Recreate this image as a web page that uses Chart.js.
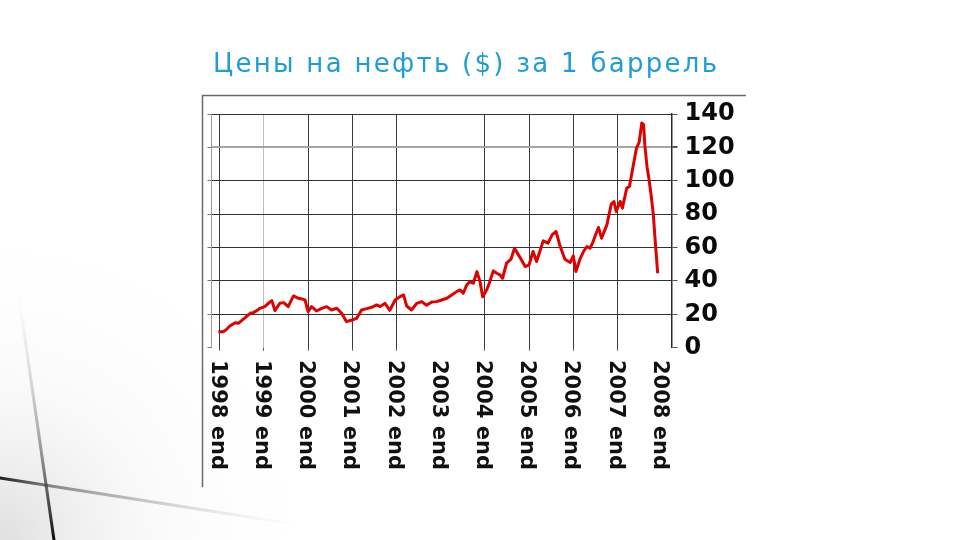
<!DOCTYPE html>
<html>
<head>
<meta charset="utf-8">
<script src="https://cdn.jsdelivr.net/npm/chart.js@4.4.1/dist/chart.umd.min.js"></script>
<style>
  html, body { margin: 0; padding: 0; background: #ffffff; }
  canvas { display: block; }
</style>
</head>
<body>
<canvas id="c" width="960" height="540"></canvas>
<script>
// ---- Data ----
const chartTitle = 'Цены на нефть ($) за 1 баррель';

// decimal year position (1999.0 = "1998 end")
const years = [
  1998.97, 1999.08, 1999.14, 1999.23, 1999.35, 1999.42, 1999.53, 1999.69, 1999.76, 1999.84,
  1999.91, 2000.02, 2000.10, 2000.18, 2000.25, 2000.36, 2000.45, 2000.55, 2000.67, 2000.78,
  2000.89, 2000.93, 2001.00, 2001.08, 2001.19, 2001.31, 2001.42, 2001.53, 2001.65, 2001.76,
  2001.87, 2001.99, 2002.10, 2002.21, 2002.33, 2002.44, 2002.55, 2002.63, 2002.74, 2002.85,
  2002.97, 2003.08, 2003.16, 2003.23, 2003.34, 2003.46, 2003.57, 2003.68, 2003.80, 2003.91,
  2004.02, 2004.14, 2004.25, 2004.36, 2004.44, 2004.51, 2004.59, 2004.66, 2004.74, 2004.82,
  2004.89, 2004.95, 2005.04, 2005.10, 2005.19, 2005.27, 2005.34, 2005.40, 2005.49, 2005.59,
  2005.67, 2005.76, 2005.82, 2005.91, 2006.00, 2006.09, 2006.17, 2006.32, 2006.43, 2006.52,
  2006.61, 2006.70, 2006.81, 2006.93, 2007.00, 2007.06, 2007.15, 2007.24, 2007.31, 2007.38,
  2007.45, 2007.49, 2007.57, 2007.64, 2007.76, 2007.86, 2007.92, 2007.97, 2008.06, 2008.11,
  2008.21, 2008.27, 2008.36, 2008.43, 2008.49, 2008.55, 2008.59, 2008.62, 2008.67, 2008.71,
  2008.76, 2008.81, 2008.85, 2008.91
];
const prices = [
  9.6, 9.6, 10.6, 13.0, 15.0, 14.6, 17.0, 20.6, 21.0, 22.2,
  23.6, 24.6, 26.6, 28.2, 22.2, 26.6, 27.0, 24.6, 31.0, 29.6,
  29.0, 28.6, 21.6, 24.6, 22.0, 23.6, 24.6, 22.6, 23.6, 20.6,
  15.6, 16.6, 17.6, 22.6, 23.4, 24.2, 25.6, 24.6, 26.6, 22.4,
  28.6, 30.6, 31.6, 25.0, 22.6, 26.6, 27.6, 25.4, 27.4, 27.6,
  28.6, 29.6, 31.6, 33.6, 34.6, 32.6, 37.6, 39.6, 38.6, 45.6,
  39.6, 30.6, 34.6, 38.6, 46.0, 44.6, 43.6, 41.6, 50.6, 53.0,
  59.6, 55.6, 53.0, 48.6, 49.6, 57.6, 51.6, 64.0, 62.6, 67.6,
  69.6, 61.0, 53.0, 51.0, 55.0, 45.6, 53.0, 58.0, 60.6, 59.6,
  63.6, 66.6, 72.0, 65.6, 73.6, 86.0, 87.6, 81.6, 87.6, 83.6,
  95.6, 96.6, 109.6, 119.6, 123.0, 134.6, 133.6, 121.0, 108.0, 101.6,
  91.6, 80.0, 65.0, 44.6
];

const tickYears  = [1999, 2000, 2001, 2002, 2003, 2004, 2005, 2006, 2007, 2008, 2009];
const tickLabels = ['1998 end', '1999 end', '2000 end', '2001 end', '2002 end', '2003 end',
                    '2004 end', '2005 end', '2006 end', '2007 end', '2008 end'];
const priceTicks = [0, 20, 40, 60, 80, 100, 120, 140];

// ---- Plugins ----
const backdrop = {
  id: 'backdrop',
  beforeDraw(chart) {
    const ctx = chart.ctx;
    ctx.save();
    ctx.fillStyle = '#ffffff';
    ctx.fillRect(0, 0, chart.width, chart.height);

    // faint grey wash in the bottom-left corner (slide background)
    const rg = ctx.createRadialGradient(0, 540, 10, 0, 540, 300);
    rg.addColorStop(0, 'rgba(170,170,170,0.35)');
    rg.addColorStop(0.5, 'rgba(210,210,210,0.12)');
    rg.addColorStop(1, 'rgba(240,240,240,0)');
    ctx.fillStyle = rg;
    ctx.fillRect(0, 230, 320, 310);

    // decorative lines
    ctx.lineCap = 'round';
    let lg = ctx.createLinearGradient(0, 478, 300, 525);
    lg.addColorStop(0, 'rgba(20,20,20,0.95)');
    lg.addColorStop(0.18, 'rgba(70,70,70,0.6)');
    lg.addColorStop(1, 'rgba(190,190,190,0)');
    ctx.strokeStyle = lg; ctx.lineWidth = 3;
    ctx.beginPath(); ctx.moveTo(0, 478); ctx.lineTo(300, 525); ctx.stroke();

    lg = ctx.createLinearGradient(18, 290, 54, 540);
    lg.addColorStop(0, 'rgba(210,210,210,0)');
    lg.addColorStop(0.55, 'rgba(110,110,110,0.5)');
    lg.addColorStop(1, 'rgba(15,15,15,1)');
    ctx.strokeStyle = lg; ctx.lineWidth = 3;
    ctx.beginPath(); ctx.moveTo(18, 290); ctx.lineTo(54, 540); ctx.stroke();

    // image frame (top and left edges)
    ctx.lineCap = 'butt';
    ctx.strokeStyle = '#6a6a6a'; ctx.lineWidth = 1.5;
    ctx.beginPath(); ctx.moveTo(202.5, 487); ctx.lineTo(202.5, 95.5); ctx.lineTo(746, 95.5); ctx.stroke();

    // title
    ctx.fillStyle = '#1f9dd6';
    ctx.font = '26px "DejaVu Sans", Verdana, sans-serif';
    ctx.textBaseline = 'alphabetic';
    ctx.textAlign = 'left';
    const targetW = 504;
    ctx.letterSpacing = '0px';
    const w0 = ctx.measureText(chartTitle).width;
    const n = [...chartTitle].length;
    const ls = (targetW - w0) / (n - 1);
    ctx.letterSpacing = ls.toFixed(2) + 'px';
    ctx.fillText(chartTitle, 213, 72);
    ctx.restore();
  }
};

const xLabels = {
  id: 'xLabels',
  afterDraw(chart) {
    const ctx = chart.ctx;
    const xs = chart.scales.x;
    ctx.save();
    ctx.fillStyle = '#111111';
    ctx.font = 'bold 21px "DejaVu Sans", Verdana, sans-serif';
    ctx.textAlign = 'left';
    ctx.textBaseline = 'middle';
    tickYears.forEach((v, i) => {
      const px = xs.getPixelForValue(v) - 2.5;
      ctx.save();
      ctx.translate(px, 360);
      ctx.rotate(Math.PI / 2);
      ctx.fillText(tickLabels[i], 0, 0);
      ctx.restore();
    });
    ctx.restore();
  }
};

// ---- Chart ----
new Chart(document.getElementById('c'), {
  type: 'line',
  data: {
    datasets: [{
      data: years.map((x, i) => ({ x: x, y: prices[i] })),
      borderColor: '#e00000',
      borderWidth: 3,
      pointRadius: 0,
      tension: 0,
      borderJoinStyle: 'round',
      fill: false
    }]
  },
  options: {
    responsive: false,
    devicePixelRatio: 1,
    animation: false,
    layout: { padding: { left: 207.5, right: 208.5, top: 114, bottom: 0 } },
    plugins: { legend: { display: false }, title: { display: false }, tooltip: { enabled: false } },
    scales: {
      x: {
        type: 'linear',
        min: 1998.815,
        max: 2009.222,
        afterBuildTicks: s => { s.ticks = tickYears.map(v => ({ value: v })); },
        afterFit: s => { s.height = 192.3; },
        ticks: { display: false },
        border: { display: false },
        grid: {
          drawTicks: true,
          tickLength: 3,
          lineWidth: 1,
          color: c => {
            const v = c.tick ? c.tick.value : null;
            if (v === 2004 || v === 2009) return 'rgba(0,0,0,0)';
            if (v === 2000) return '#bdbdbd';
            return '#3a3a3a';
          },
          tickColor: c => {
            const v = c.tick ? c.tick.value : null;
            if (v === 2004 || v === 2009) return 'rgba(0,0,0,0)';
            return '#555555';
          }
        }
      },
      y: {
        position: 'right',
        min: 0,
        max: 140,
        afterBuildTicks: s => { s.ticks = priceTicks.map(v => ({ value: v })); },
        afterFit: s => { s.width = 80; },
        ticks: {
          padding: 7,
          color: '#0a0a0a',
          font: { family: '"DejaVu Sans", Verdana, sans-serif', size: 24, weight: 'bold' }
        },
        border: { display: true, color: '#2a2a2a', width: 1.5 },
        grid: {
          drawTicks: true,
          tickLength: 6,
          color: c => {
            const v = c.tick ? c.tick.value : null;
            if (v === 0) return 'rgba(0,0,0,0)';
            if (v === 120) return '#a5a5a5';
            return '#333333';
          },
          lineWidth: c => (c.tick && c.tick.value === 120 ? 2 : 1),
          tickColor: '#555555'
        }
      },
      y2: {
        position: 'left',
        min: 0,
        max: 140,
        afterBuildTicks: s => { s.ticks = priceTicks.map(v => ({ value: v })); },
        afterFit: s => { s.width = 4; },
        ticks: { display: false },
        border: { display: true, color: '#9a9a9a', width: 1 },
        grid: { drawOnChartArea: false, drawTicks: true, tickLength: 4, color: '#777777' }
      }
    }
  },
  plugins: [backdrop, xLabels]
});
</script>
</body>
</html>
